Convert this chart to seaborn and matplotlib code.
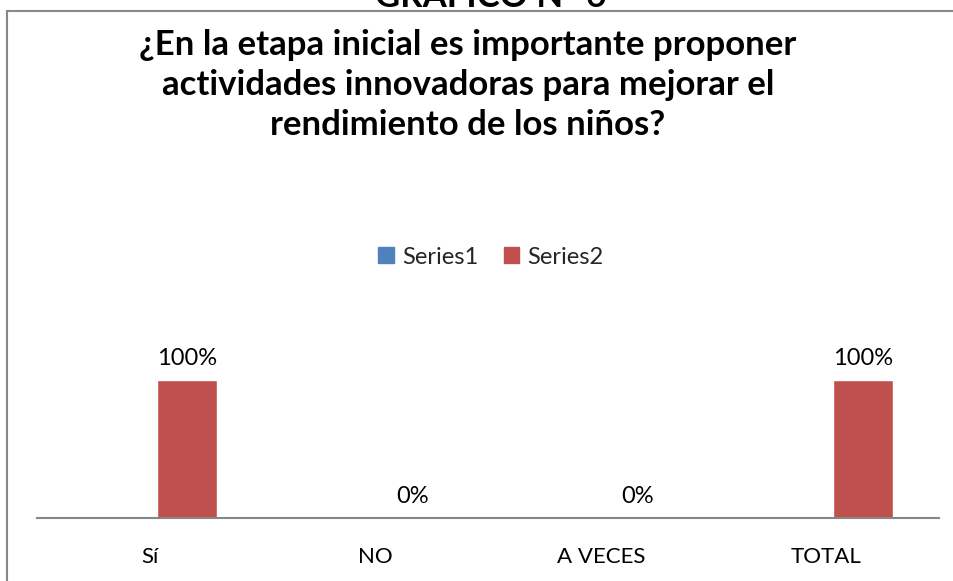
import matplotlib
matplotlib.use("Agg")
import matplotlib.pyplot as plt
import seaborn as sns
import pandas as pd
from matplotlib.lines import Line2D

categories = ["Sí", "NO", "A VECES", "TOTAL"]
series_names = ["Series1", "Series2"]
series1 = [0.0, 0.0, 0.0, 0.0]
series2 = [1.0, 0.0, 0.0, 1.0]
title_top = "GRÁFICO N° 6"
title = "¿En la etapa inicial es importante proponer\nactividades innovadoras para mejorar el\nrendimiento de los niños?"

sns.set_theme(style="white")
plt.rcParams['font.family'] = ['Lato', 'DejaVu Sans']

df = pd.DataFrame({
    "cat": categories * 2,
    "val": series1 + series2,
    "series": [series_names[0]] * 4 + [series_names[1]] * 4,
})

W, H = 954, 581
fig = plt.figure(figsize=(W / 100, H / 100), dpi=100)
ax = fig.add_axes([37 / W, (H - 518) / H, (939 - 37) / W, 165.6 / H])

palette = {"Series1": "#4F81BD", "Series2": "#C0504D"}
sns.barplot(data=df, x="cat", y="val", hue="series", palette=palette,
            width=0.656, gap=0.19, saturation=1, ax=ax, legend=False)
ax.set_ylim(0, 1.2)
ax.set_xlim(-0.5, 3.5)

ax.bar_label(ax.containers[1], labels=[f"{v:.0%}" for v in series2], padding=8,
             fontsize=17, color="#000000")

for s in ["top", "right", "left"]:
    ax.spines[s].set_visible(False)
ax.spines["bottom"].set_color("#868686")
ax.spines["bottom"].set_linewidth(1.5)
ax.set_yticks([])
ax.set_xlabel("")
ax.set_ylabel("")
ax.tick_params(axis="x", length=0, pad=21, labelsize=16, colors="#000000")

# legend
handles = [plt.Rectangle((0, 0), 1, 1, color=palette[n]) for n in series_names]
fig.legend(handles, series_names, loc="center", bbox_to_anchor=(491 / W, 1 - 257 / H),
           ncol=2, frameon=False, fontsize=17, handlelength=0.65, handleheight=0.65,
           handletextpad=0.35, columnspacing=1.1)

# titles
fig.text(491 / W, 1 - 7 / H, title_top, ha="center", va="baseline",
         fontsize=25, fontweight="bold", color="#000000")
fig.text(468 / W, 1 - 85 / H, title, ha="center", va="center",
         fontsize=25, fontweight="bold", color="#000000", linespacing=1.3)

# chart frame (left and top borders)
fig.add_artist(Line2D([7 / W, 7 / W], [0, 1 - 11 / H], color="#888888", lw=1.5))
fig.add_artist(Line2D([7 / W, 1], [1 - 11 / H, 1 - 11 / H], color="#888888", lw=1.5))

fig.savefig("out.png", dpi=100, facecolor="white")
